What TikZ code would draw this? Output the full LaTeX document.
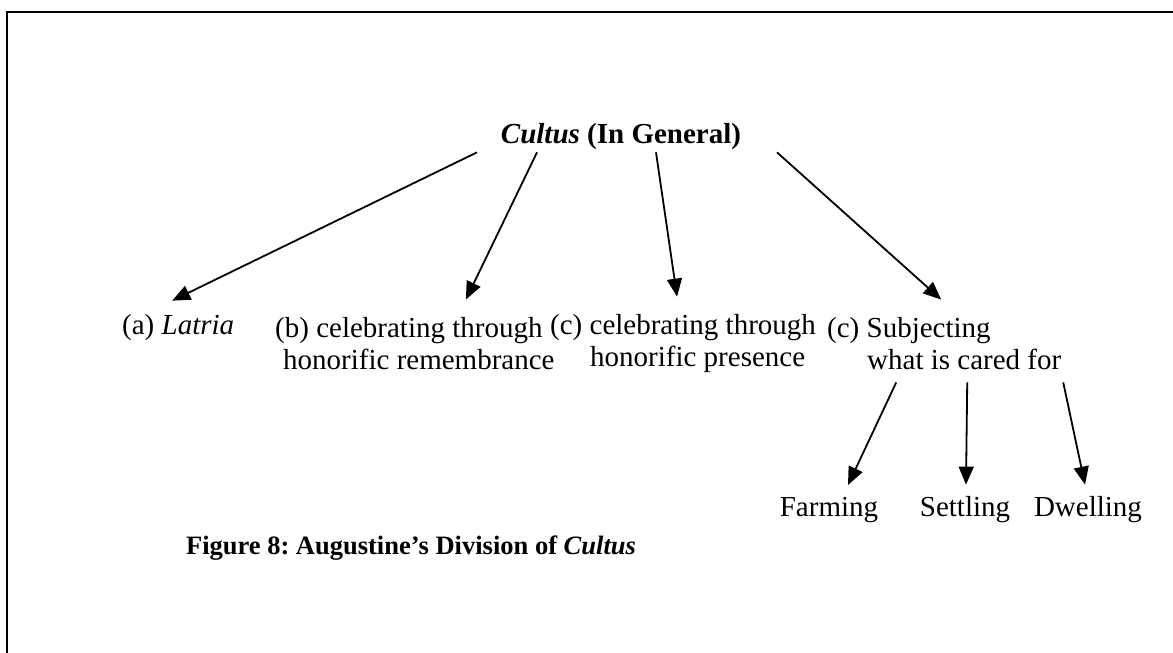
\documentclass[tikz,border=0pt]{standalone}
\usepackage{fontspec}
\setmainfont{Liberation Serif}
\usetikzlibrary{arrows.meta,calc}

\begin{document}
\begin{tikzpicture}[x=1pt, y=-1pt, every node/.style={inner sep=0pt, font=\fontsize{29}{32}\selectfont},
  arr/.style={line width=1.8pt, -{Triangle[length=18pt,width=15pt]}}]
  \useasboundingbox (0,0) rectangle (1173,653);
  \draw[line width=2.2pt] (7,653) -- (7,12) -- (1173,12);
  \node (cultus) at (621,137) {\textbf{\textit{Cultus} (In General)}};
  \node[anchor=west] (latria) at (122,328) {(a) \textit{Latria}};
  \node[anchor=west, align=left] (remem) at (275,344) {(b) celebrating through\\\hspace*{8pt}honorific remembrance};
  \node[anchor=west, align=left] (presence) at (550,344) {(c) celebrating through\\\hspace*{40pt}honorific presence};
  \node[anchor=west, align=left] (subject) at (827,344) {(c) Subjecting\\\hspace*{40pt}what is cared for};
  \node (farm) at (829,510) {Farming};
  \node (settle) at (965,510) {Settling};
  \node (dwell) at (1088,510) {Dwelling};
  \node[font=\fontsize{26.5}{30}\selectfont\frenchspacing] (caption) at (411,548) {\textbf{Figure 8: Augustine’s Division of \textit{Cultus}}};
  \draw[arr] ($(cultus.south)+(-144,2)$) -- ($(latria.north)+(-6,-14)$);
  \draw[arr] ($(cultus.south)+(-84,2)$) -- ($(remem.north)+(51,-18)$);
  \draw[arr] ($(cultus.south)+(35,2)$) -- ($(presence.north)+(-6,-18)$);
  \draw[arr] ($(cultus.south)+(156,2)$) -- ($(subject.north)+(-3,-18)$);
  \draw[arr] ($(subject.south)+(-48,12)$) -- ($(farm.north)+(19,-12)$);
  \draw[arr] ($(subject.south)+(23,12)$) -- ($(settle.north)+(1,-12)$);
  \draw[arr] ($(subject.south)+(119,12)$) -- ($(dwell.north)+(-3,-12)$);
\end{tikzpicture}
\end{document}
